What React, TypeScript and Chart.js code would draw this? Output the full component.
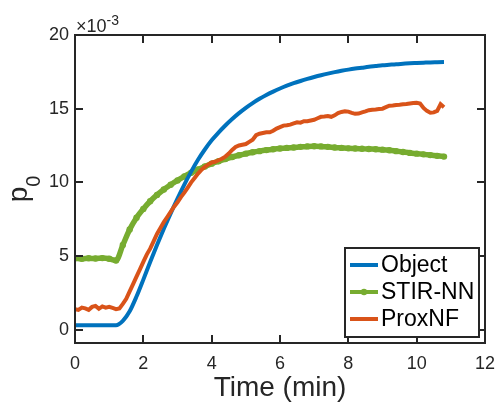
import { useEffect, useRef } from "react";
import { Chart, registerables } from "chart.js";
Chart.register(...registerables);

// Time samples (min)
const TIME = [
  0, 0.2, 0.4, 0.6, 0.8, 1.0, 1.2, 1.4, 1.6, 1.8, 2.0, 2.2, 2.4, 2.6, 2.8, 3.0, 3.2, 3.4, 3.6, 3.8,
  4.0, 4.2, 4.4, 4.6, 4.8, 5.0, 5.2, 5.4, 5.6, 5.8, 6.0, 6.2, 6.4, 6.6, 6.8, 7.0, 7.2, 7.4, 7.6, 7.8,
  8.0, 8.2, 8.4, 8.6, 8.8, 9.0, 9.2, 9.4, 9.6, 9.8, 10.0, 10.2, 10.4, 10.6, 10.8,
];
const TIME_FINE = [
  0, 0.1, 0.2, 0.3, 0.4, 0.5, 0.6, 0.7, 0.8, 0.9, 1.0, 1.1, 1.2, 1.3, 1.4, 1.5, 1.6, 1.7, 1.8, 1.9,
  2.0, 2.1, 2.2, 2.3, 2.4, 2.5, 2.6, 2.7, 2.8, 2.9, 3.0, 3.1, 3.2, 3.3, 3.4, 3.5, 3.6, 3.7, 3.8, 3.9,
  4.0, 4.1, 4.2, 4.3, 4.4, 4.5, 4.6, 4.7, 4.8, 4.9, 5.0, 5.1, 5.2, 5.3, 5.4, 5.5, 5.6, 5.7, 5.8, 5.9,
  6.0, 6.1, 6.2, 6.3, 6.4, 6.5, 6.6, 6.7, 6.8, 6.9, 7.0, 7.1, 7.2, 7.3, 7.4, 7.5, 7.6, 7.7, 7.8, 7.9,
  8.0, 8.1, 8.2, 8.3, 8.4, 8.5, 8.6, 8.7, 8.8, 8.9, 9.0, 9.1, 9.2, 9.3, 9.4, 9.5, 9.6, 9.7, 9.8, 9.9,
  10.0, 10.1, 10.2, 10.3, 10.4, 10.5, 10.6, 10.7, 10.8,
];

// p0 values in units of 1e-3
const OBJECT = [
  0.3, 0.3, 0.3, 0.3, 0.3, 0.3, 0.3, 0.6, 1.25, 2.25, 3.4, 4.6, 5.75, 6.85, 7.9, 8.9, 9.85, 10.73, 11.53, 12.23,
  12.85, 13.38, 13.86, 14.3, 14.7, 15.06, 15.38, 15.67, 15.93, 16.16, 16.37, 16.56, 16.73, 16.88, 17.02, 17.15, 17.27, 17.38, 17.48, 17.57,
  17.65, 17.72, 17.78, 17.84, 17.89, 17.94, 17.98, 18.02, 18.05, 18.08, 18.1, 18.12, 18.14, 18.15, 18.16,
];
const STIR_NN = [
  4.85, 4.82, 4.85, 4.83, 4.86, 4.82, 4.7, 5.75, 6.8, 7.6, 8.2, 8.72, 9.15, 9.52, 9.84, 10.13, 10.4, 10.65, 10.88, 11.08,
  11.27, 11.43, 11.58, 11.72, 11.84, 11.95, 12.04, 12.12, 12.19, 12.25, 12.3, 12.34, 12.37, 12.41, 12.44, 12.45, 12.44, 12.41, 12.37, 12.34,
  12.31, 12.3, 12.28, 12.26, 12.25, 12.22, 12.18, 12.12, 12.06, 12.0, 11.95, 11.9, 11.85, 11.8, 11.75,
];
const PROXNF = [
  1.4, 1.35, 1.5, 1.45, 1.35, 1.55, 1.62, 1.42, 1.58, 1.5, 1.55, 1.48, 1.4, 1.45, 1.75, 2.1, 2.6, 3.1, 3.6, 4.1,
  4.6, 5.1, 5.5, 6.0, 6.5, 6.9, 7.3, 7.65, 8.0, 8.35, 8.65, 9.0, 9.3, 9.65, 10.0, 10.3, 10.6, 10.85, 11.05, 11.2,
  11.35, 11.4, 11.5, 11.6, 11.75, 11.95, 12.2, 12.4, 12.5, 12.55, 12.6, 12.75, 12.9, 13.2, 13.3, 13.35, 13.4, 13.4, 13.5, 13.65,
  13.75, 13.85, 13.88, 13.92, 14.0, 14.08, 14.05, 14.15, 14.15, 14.2, 14.25, 14.35, 14.45, 14.47, 14.5, 14.45, 14.55, 14.7, 14.78, 14.82,
  14.8, 14.72, 14.65, 14.67, 14.75, 14.82, 14.9, 14.93, 14.95, 14.98, 15.0, 15.1, 15.2, 15.22, 15.25, 15.27, 15.3, 15.32, 15.35, 15.38,
  15.4, 15.35, 15.05, 14.85, 14.73, 14.75, 14.85, 15.3, 15.1,
];

const SERIES_LABELS = ["Object", "STIR-NN", "ProxNF"];
const X_TICKS = [0, 2, 4, 6, 8, 10, 12];
const Y_TICKS = [0, 5, 10, 15, 20];
const Y_EXPONENT = "-3";
const X_TITLE = "Time (min)";
const Y_TITLE_MAIN = "p";
const Y_TITLE_SUB = "0";

const FONT = "'Liberation Sans', Arial, Helvetica, sans-serif";
const AXIS_COLOR = "#262626";

const axesPlugin = {
  id: "matlabAxes",
  afterDatasetsDraw(chart: any) {
    const { ctx, chartArea: ca, scales } = chart;
    const xs = scales.x;
    const ys = scales.y;
    ctx.save();
    ctx.strokeStyle = AXIS_COLOR;
    ctx.lineWidth = 2;
    ctx.beginPath();
    ctx.rect(ca.left, ca.top, ca.right - ca.left, ca.bottom - ca.top);
    ctx.stroke();
    const tl = 8;
    ctx.beginPath();
    for (const v of X_TICKS) {
      const px = Math.round(xs.getPixelForValue(v));
      ctx.moveTo(px, ca.bottom);
      ctx.lineTo(px, ca.bottom - tl);
      ctx.moveTo(px, ca.top);
      ctx.lineTo(px, ca.top + tl);
    }
    for (const v of Y_TICKS) {
      const py = Math.round(ys.getPixelForValue(v));
      ctx.moveTo(ca.left, py);
      ctx.lineTo(ca.left + tl, py);
      ctx.moveTo(ca.right, py);
      ctx.lineTo(ca.right - tl, py);
    }
    ctx.stroke();

    // exponent label
    ctx.fillStyle = AXIS_COLOR;
    ctx.textBaseline = "alphabetic";
    ctx.textAlign = "left";
    ctx.font = `18px ${FONT}`;
    const base = "\u00d710";
    ctx.fillText(base, ca.left + 1, ca.top - 3);
    const w = ctx.measureText(base).width;
    ctx.font = `14px ${FONT}`;
    ctx.fillText(Y_EXPONENT, ca.left + 1 + w, ca.top - 10);

    // y title with subscript
    const cy = (ca.top + ca.bottom) / 2;
    ctx.translate(27, cy);
    ctx.rotate(-Math.PI / 2);
    ctx.font = `28px ${FONT}`;
    const wp = ctx.measureText(Y_TITLE_MAIN).width;
    ctx.font = `20px ${FONT}`;
    const ws = ctx.measureText(Y_TITLE_SUB).width;
    const x0 = -(wp + ws) / 2;
    ctx.font = `28px ${FONT}`;
    ctx.fillText(Y_TITLE_MAIN, x0, 0);
    ctx.font = `20px ${FONT}`;
    ctx.fillText(Y_TITLE_SUB, x0 + wp, 13);
    ctx.restore();

    // legend
    ctx.save();
    const lw = 134, lh = 89;
    const lx = ca.right - 6 - lw;
    const ly = ca.bottom - 6 - lh;
    ctx.fillStyle = "#ffffff";
    ctx.fillRect(lx, ly, lw, lh);
    ctx.strokeStyle = AXIS_COLOR;
    ctx.lineWidth = 2;
    ctx.strokeRect(lx, ly, lw, lh);
    ctx.font = `23px ${FONT}`;
    ctx.textBaseline = "middle";
    ctx.textAlign = "left";
    chart.data.datasets.forEach((ds: any, i: number) => {
      const yy = ly + 17 + i * 27;
      ctx.strokeStyle = ds.borderColor;
      ctx.lineWidth = 4;
      ctx.beginPath();
      ctx.moveTo(lx + 5, yy);
      ctx.lineTo(lx + 33, yy);
      ctx.stroke();
      if (ds.pointRadius > 0) {
        ctx.fillStyle = ds.borderColor;
        ctx.beginPath();
        ctx.arc(lx + 19, yy, ds.pointRadius, 0, Math.PI * 2);
        ctx.fill();
      }
      ctx.fillStyle = "#000000";
      ctx.fillText(ds.label, lx + 36, yy + 1);
    });
    ctx.restore();
  },
};

export default function App() {
  const ref = useRef<HTMLCanvasElement | null>(null);
  useEffect(() => {
    if (!ref.current) return;
    const chart = new Chart(ref.current, {
      type: "line",
      data: {
        datasets: [
          {
            label: SERIES_LABELS[0],
            data: TIME.map((t, i) => ({ x: t, y: OBJECT[i] })),
            borderColor: "#0072BD",
            borderWidth: 4,
            pointRadius: 0,
            cubicInterpolationMode: "monotone",
            order: 1,
          },
          {
            label: SERIES_LABELS[1],
            data: TIME.map((t, i) => ({ x: t, y: STIR_NN[i] })),
            borderColor: "#77AC30",
            backgroundColor: "#77AC30",
            borderWidth: 5.5,
            pointRadius: 3.2,
            pointBorderWidth: 0,
            pointBackgroundColor: "#77AC30",
            cubicInterpolationMode: "monotone",
            order: 2,
          },
          {
            label: SERIES_LABELS[2],
            data: TIME_FINE.map((t, i) => ({ x: t, y: PROXNF[i] })),
            borderColor: "#D95319",
            borderWidth: 4,
            pointRadius: 0,
            tension: 0,
            order: 0,
          },
        ],
      },
      options: {
        responsive: false,
        animation: false,
        devicePixelRatio: 1,
        layout: { padding: { top: 35, right: 11, left: 0, bottom: 0 } },
        plugins: { legend: { display: false }, tooltip: { enabled: false } },
        scales: {
          x: {
            type: "linear",
            min: 0,
            max: 12,
            afterBuildTicks: (s: any) => {
              s.ticks = X_TICKS.map((v) => ({ value: v }));
            },
            afterFit: (s: any) => {
              s.height = 62;
              s.paddingLeft = 0;
              s.paddingRight = 0;
            },
            grid: { display: false, drawTicks: false },
            border: { display: false },
            ticks: {
              color: AXIS_COLOR,
              font: { family: FONT, size: 18 },
              padding: 10,
              maxRotation: 0,
              autoSkip: false,
            },
            title: {
              display: true,
              text: X_TITLE,
              color: AXIS_COLOR,
              font: { family: FONT, size: 28 },
              padding: { top: 0, bottom: 0 },
            },
          },
          y: {
            type: "linear",
            min: -0.9,
            max: 20,
            afterBuildTicks: (s: any) => {
              s.ticks = Y_TICKS.map((v) => ({ value: v }));
            },
            afterFit: (s: any) => {
              s.width = 75;
              s.paddingTop = 0;
              s.paddingBottom = 0;
            },
            grid: { display: false, drawTicks: false },
            border: { display: false },
            ticks: {
              color: AXIS_COLOR,
              font: { family: FONT, size: 18 },
              padding: 6,
              autoSkip: false,
              callback: (v: any) => String(v),
            },
          },
        },
      },
      plugins: [axesPlugin],
    });
    return () => chart.destroy();
  }, []);
  return (
    <div style={{ position: "fixed", left: 0, top: 0, width: 496, height: 405, background: "#fff" }}>
      <canvas ref={ref} width={496} height={405} style={{ display: "block" }} />
    </div>
  );
}
